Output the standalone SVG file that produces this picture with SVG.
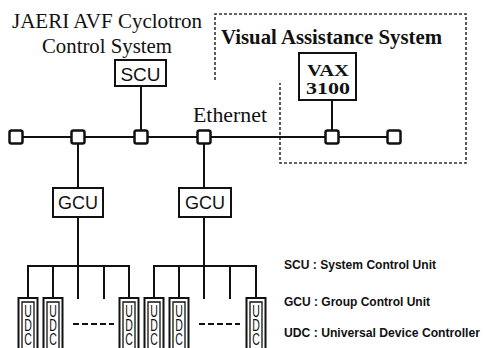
<svg xmlns="http://www.w3.org/2000/svg" width="484" height="348" viewBox="0 0 484 348">
<style>
.ln{stroke:#111;stroke-width:2;fill:none}
.box{stroke:#111;stroke-width:2;fill:#fff}
.node{stroke:#111;stroke-width:2.5;fill:#fff}
.dash{stroke:#333;stroke-width:1.6;fill:none;stroke-dasharray:3 2}
.serif{font-family:"Liberation Serif","DejaVu Serif",serif;fill:#111}
.sans{font-family:"Liberation Sans","DejaVu Sans",sans-serif;fill:#111}
.lg{font-family:"Liberation Sans","DejaVu Sans",sans-serif;font-weight:bold;font-size:12px;fill:#111}
.udc{font-family:"Liberation Sans","DejaVu Sans",sans-serif;font-size:17px;fill:#111;text-anchor:middle}
</style>
<rect width="484" height="348" fill="#fff"/>

<g id="title">
<text class="serif" x="12" y="28" font-size="21" font-weight="500" textLength="190" lengthAdjust="spacingAndGlyphs">JAERI AVF Cyclotron</text>
<text class="serif" x="42" y="53" font-size="21" textLength="130" lengthAdjust="spacingAndGlyphs">Control System</text>
</g>

<g id="visual-assistance-system">
<path class="dash" d="M215,80 V14 H466 V163 H280 V83"/>
<text class="serif" x="221" y="44" font-size="20" font-weight="bold" textLength="221" lengthAdjust="spacingAndGlyphs">Visual Assistance System</text>
</g>

<g id="connectors">
<line class="ln" x1="16" y1="137" x2="394" y2="137"/>
<line class="ln" x1="141" y1="86" x2="141" y2="137"/>
<line class="ln" x1="332" y1="100" x2="332" y2="137"/>
<line class="ln" x1="78" y1="137" x2="78" y2="188"/>
<line class="ln" x1="204" y1="137" x2="204" y2="188"/>
<line class="ln" x1="78" y1="217" x2="78" y2="266"/>
<line class="ln" x1="204" y1="217" x2="204" y2="266"/>
<path class="ln" d="M28,298 V266 H129 V298 M53,266 V298 M78,266 V299 M104,266 V299"/>
<path class="ln" d="M154,298 V266 H256 V298 M179,266 V298 M204,266 V299 M230,266 V299"/>
<line class="ln" x1="73" y1="324" x2="114" y2="324" stroke-dasharray="6 3"/>
<line class="ln" x1="199" y1="324" x2="240" y2="324" stroke-dasharray="6 3"/>
</g>

<g id="ethernet-label">
<text class="serif" x="193" y="122" font-size="21" textLength="74" lengthAdjust="spacingAndGlyphs">Ethernet</text>
</g>

<g id="bus-nodes">
<rect class="node" x="9.5" y="130.5" width="13" height="13" rx="2"/>
<rect class="node" x="71.5" y="130.5" width="13" height="13" rx="2"/>
<rect class="node" x="134.5" y="130.5" width="13" height="13" rx="2"/>
<rect class="node" x="197.5" y="130.5" width="13" height="13" rx="2"/>
<rect class="node" x="325.5" y="130.5" width="13" height="13" rx="2"/>
<rect class="node" x="387.5" y="130.5" width="13" height="13" rx="2"/>
</g>

<g id="scu">
<rect class="box" x="115" y="60" width="51" height="26"/>
<text class="sans" x="140.5" y="81" font-size="19" text-anchor="middle">SCU</text>
</g>

<g id="vax">
<rect class="box" x="299" y="53" width="57" height="47"/>
<text class="serif" x="307" y="76" font-size="16" font-weight="bold" textLength="42" lengthAdjust="spacingAndGlyphs">VAX</text>
<text class="serif" x="306" y="94" font-size="16" font-weight="bold" textLength="44" lengthAdjust="spacingAndGlyphs">3100</text>
</g>

<g id="gcu1">
<rect class="box" x="53" y="188" width="50" height="29"/>
<text class="sans" x="78" y="209" font-size="18" text-anchor="middle">GCU</text>
</g>
<g id="gcu2">
<rect class="box" x="179" y="188" width="52" height="29"/>
<text class="sans" x="205" y="209" font-size="18" text-anchor="middle">GCU</text>
</g>

<defs>
<g id="udcbox">
<rect x="-9.5" y="0" width="19" height="60" fill="#fff" stroke="#111" stroke-width="2"/>
<path d="M-6,60 V4 H6 V60" fill="none" stroke="#111" stroke-width="1.3"/>
<g transform="scale(0.62,1)">
<text class="udc" x="0" y="19">U</text>
<text class="udc" x="0" y="33">D</text>
<text class="udc" x="0" y="47">C</text>
</g>
</g>
</defs>
<g id="udc1"><use href="#udcbox" x="28" y="298"/></g>
<g id="udc2"><use href="#udcbox" x="53" y="298"/></g>
<g id="udc3"><use href="#udcbox" x="129" y="298"/></g>
<g id="udc4"><use href="#udcbox" x="154" y="298"/></g>
<g id="udc5"><use href="#udcbox" x="179" y="298"/></g>
<g id="udc6"><use href="#udcbox" x="256" y="298"/></g>

<g id="legend">
<text class="lg" x="284" y="269" textLength="152" lengthAdjust="spacingAndGlyphs">SCU : System Control Unit</text>
<text class="lg" x="284" y="306" textLength="146" lengthAdjust="spacingAndGlyphs">GCU : Group Control Unit</text>
<text class="lg" x="284" y="337" textLength="196" lengthAdjust="spacingAndGlyphs">UDC : Universal Device Controller</text>
</g>
</svg>
